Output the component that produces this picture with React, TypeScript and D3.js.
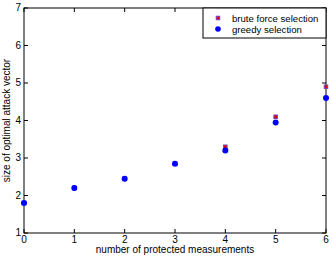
import React from "react";
import * as d3 from "d3";

const xTicks = [0, 1, 2, 3, 4, 5, 6];
const yTicks = [1, 2, 3, 4, 5, 6, 7];
const protectedCounts = [0, 1, 2, 3, 4, 5, 6];
const bruteForce = [1.8, 2.2, 2.45, 2.85, 3.3, 4.1, 4.9];
const greedy = [1.8, 2.2, 2.45, 2.85, 3.2, 3.95, 4.6];
const legendLabels = ["brute force selection", "greedy selection"];

const W = 332, H = 256;
const m = { left: 24, right: 6, top: 8, bottom: 23 };

export default function App() {
  const x = d3.scaleLinear().domain([0, 6]).range([m.left, W - m.right]);
  const y = d3.scaleLinear().domain([1, 7]).range([H - m.bottom, m.top]);
  const font = "'Liberation Sans', Arial, Helvetica, sans-serif";
  const x0 = x(0), x1 = x(6), y0 = y(1), y1 = y(7);
  const tl = 4;
  return (
    <svg width={W} height={H} style={{ position: "absolute", left: 0, top: 0, background: "#fff" }} fontFamily={font}>
      <rect x={0} y={0} width={W} height={H} fill="#fff" />
      <rect x={x0} y={y1} width={x1 - x0} height={y0 - y1} fill="#fff" stroke="#000" strokeWidth={1} />
      {xTicks.map((t) => (
        <g key={"x" + t}>
          <line x1={x(t)} x2={x(t)} y1={y0} y2={y0 - tl} stroke="#000" />
          <line x1={x(t)} x2={x(t)} y1={y1} y2={y1 + tl} stroke="#000" />
          <text x={x(t)} y={y0 + 9.5} fontSize={10} textAnchor="middle">{t}</text>
        </g>
      ))}
      {yTicks.map((t) => (
        <g key={"y" + t}>
          <line x1={x0} x2={x0 + tl} y1={y(t)} y2={y(t)} stroke="#000" />
          <line x1={x1} x2={x1 - tl} y1={y(t)} y2={y(t)} stroke="#000" />
          <text x={x0 - 3} y={y(t) + 3} fontSize={10} textAnchor="end">{t}</text>
        </g>
      ))}
      <text x={(x0 + x1) / 2} y={H - 3.5} fontSize={10} textAnchor="middle">number of protected measurements</text>
      <text transform={`translate(10,${(y0 + y1) / 2}) rotate(-90)`} fontSize={10} textAnchor="middle">size of optimal attack vector</text>
      {protectedCounts.map((c, i) => (
        <rect key={"b" + i} x={x(c) - 1.75} y={y(bruteForce[i]) - 1.75} width={3.5} height={3.5} fill="#e00000" stroke="#8040b0" strokeWidth={1} />
      ))}
      {protectedCounts.map((c, i) => (
        <circle key={"g" + i} cx={x(c)} cy={y(greedy[i])} r={3} fill="#0000ff" />
      ))}
      <g>
        <rect x={203} y={y1} width={x1 - 203} height={30} fill="#fff" stroke="#000" strokeWidth={1} />
        <rect x={216.25} y={16.25} width={3.5} height={3.5} fill="#e00000" stroke="#8040b0" strokeWidth={1} />
        <text x={232} y={21.5} fontSize={9.6}>{legendLabels[0]}</text>
        <circle cx={218} cy={29} r={2.8} fill="#0000ff" />
        <text x={232} y={32.5} fontSize={9.6}>{legendLabels[1]}</text>
      </g>
    </svg>
  );
}
